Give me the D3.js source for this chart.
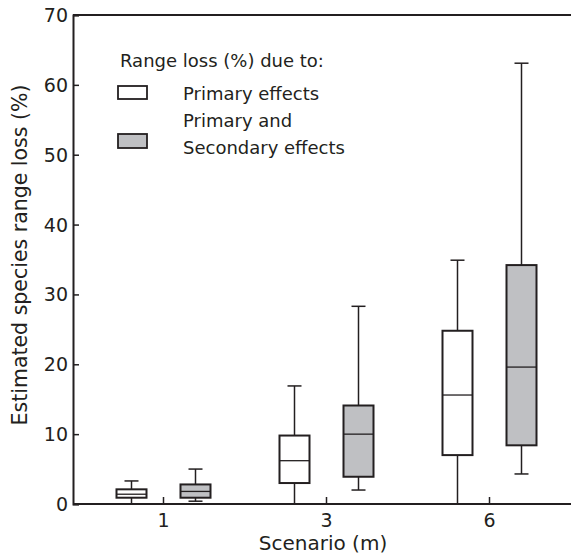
<!DOCTYPE html>
<html>
<head>
<meta charset="utf-8">
<script src="https://cdn.jsdelivr.net/npm/d3@7"></script>
<style>
  body { margin: 0; background: #fff; }
  svg { display: block; font-family: "DejaVu Sans", sans-serif; }
</style>
</head>
<body>
<svg id="chart" width="571" height="556"></svg>
<script>
// scenarios (sea-level rise, m) and the two effect series
const scenarios = ["1", "3", "6"];
const series = ["Primary effects", "Primary and Secondary effects"];
const yTicks = [0, 10, 20, 30, 40, 50, 60, 70];

// box stats per scenario: [min, q1, median, q3, max]
const primaryStats = [
  [0, 0.9, 1.4, 2.1, 3.3],
  [0, 3.0, 6.2, 9.8, 16.9],
  [0, 7.0, 15.6, 24.8, 34.9]
];
const secondaryStats = [
  [0.4, 0.9, 1.8, 2.8, 5.0],
  [2.0, 3.9, 10.0, 14.1, 28.3],
  [4.3, 8.4, 19.6, 34.2, 63.1]
];

const ink = "#231f20";
const grey = "#bfc0c3";
const fills = [ "#ffffff", grey ];

const svg = d3.select("#chart");
const plotLeft = 73, plotRight = 571, plotTop = 15, plotBottom = 504;

var y = d3.scaleLinear().domain([0, 70]).range([plotBottom, plotTop]);
var x = d3.scaleBand().domain(scenarios).range([82, 571]);
var offset = d3.scalePoint().domain(series).range([-32, 32]);
const boxW = 30;

// frame: top line and left axis
svg.append("line")
    .attr("x1", plotLeft).attr("x2", plotRight)
    .attr("y1", plotTop).attr("y2", plotTop)
    .attr("stroke", ink).attr("stroke-width", 2);

var yAxis = svg.append("g")
    .attr("transform", `translate(${plotLeft},0)`)
    .call(d3.axisRight(y).tickValues(yTicks).tickSize(6).tickFormat(""));
yAxis.select(".domain").attr("stroke", ink).attr("stroke-width", 2);
yAxis.selectAll(".tick line").attr("stroke", ink).attr("stroke-width", 1.5);

svg.append("g").selectAll("text")
    .data(yTicks)
    .enter()
    .append("text")
    .attr("x", 68)
    .attr("y", d => y(d) + 7)
    .attr("text-anchor", "end")
    .attr("font-size", "19px")
    .attr("fill", ink)
    .text(d => d);

var xAxis = svg.append("g")
    .attr("transform", `translate(0,${plotBottom})`)
    .call(d3.axisTop(x).tickSize(7).tickFormat(""));
xAxis.select(".domain").remove();
xAxis.selectAll(".tick line").attr("stroke", ink).attr("stroke-width", 1.5);

svg.append("line")
    .attr("x1", plotLeft).attr("x2", plotRight)
    .attr("y1", plotBottom).attr("y2", plotBottom)
    .attr("stroke", ink).attr("stroke-width", 2);

svg.append("g").selectAll("text")
    .data(scenarios)
    .enter()
    .append("text")
    .attr("x", d => x(d) + x.bandwidth() / 2)
    .attr("y", 527)
    .attr("text-anchor", "middle")
    .attr("font-size", "19px")
    .attr("fill", ink)
    .text(d => d);

// axis titles
svg.append("text")
    .attr("x", 323).attr("y", 550)
    .attr("text-anchor", "middle")
    .attr("font-size", "20px")
    .attr("fill", ink)
    .text("Scenario (m)");

svg.append("text")
    .attr("transform", "translate(27,255) rotate(-90)")
    .attr("text-anchor", "middle")
    .attr("font-size", "20.5px")
    .attr("fill", ink)
    .text("Estimated species range loss (%)");

// boxes
var boxes = [];
scenarios.forEach((s, i) => {
    boxes.push({ scenario: s, series: series[0], stats: primaryStats[i], fill: fills[0] });
    boxes.push({ scenario: s, series: series[1], stats: secondaryStats[i], fill: fills[1] });
});

var bx = svg.append("g").selectAll("g")
    .data(boxes)
    .enter()
    .append("g")
    .attr("transform", d => `translate(${x(d.scenario) + x.bandwidth() / 2 + offset(d.series)},0)`);

// whiskers
bx.append("line")
    .attr("x1", 0).attr("x2", 0)
    .attr("y1", d => y(d.stats[4])).attr("y2", d => y(d.stats[3]))
    .attr("stroke", ink).attr("stroke-width", 1.5);
bx.append("line")
    .attr("x1", 0).attr("x2", 0)
    .attr("y1", d => y(d.stats[1])).attr("y2", d => y(d.stats[0]))
    .attr("stroke", ink).attr("stroke-width", 1.5);
// caps (none when whisker reaches the axis)
bx.filter(d => d.stats[4] > 0).append("line")
    .attr("x1", -7).attr("x2", 7)
    .attr("y1", d => y(d.stats[4])).attr("y2", d => y(d.stats[4]))
    .attr("stroke", ink).attr("stroke-width", 1.5);
bx.filter(d => d.stats[0] > 0).append("line")
    .attr("x1", -7).attr("x2", 7)
    .attr("y1", d => y(d.stats[0])).attr("y2", d => y(d.stats[0]))
    .attr("stroke", ink).attr("stroke-width", 1.5);

bx.append("rect")
    .attr("x", -boxW / 2)
    .attr("width", boxW)
    .attr("y", d => y(d.stats[3]))
    .attr("height", d => y(d.stats[1]) - y(d.stats[3]))
    .attr("fill", d => d.fill)
    .attr("stroke", ink)
    .attr("stroke-width", 2);

bx.append("line")
    .attr("x1", -boxW / 2).attr("x2", boxW / 2)
    .attr("y1", d => y(d.stats[2])).attr("y2", d => y(d.stats[2]))
    .attr("stroke", ink).attr("stroke-width", 1.3);

// legend
var legend = svg.append("g");
legend.append("text")
    .attr("x", 120).attr("y", 67)
    .attr("font-size", "18px")
    .attr("fill", ink)
    .text("Range loss (%) due to:");

legend.append("rect")
    .attr("x", 118).attr("y", 86).attr("width", 29).attr("height", 13)
    .attr("fill", fills[0]).attr("stroke", ink).attr("stroke-width", 1.8);
legend.append("text")
    .attr("x", 183).attr("y", 100)
    .attr("font-size", "18px").attr("fill", ink)
    .text(series[0]);

legend.append("rect")
    .attr("x", 118).attr("y", 134).attr("width", 29).attr("height", 14)
    .attr("fill", fills[1]).attr("stroke", ink).attr("stroke-width", 1.8);
legend.append("text")
    .attr("x", 183).attr("y", 127)
    .attr("font-size", "18px").attr("fill", ink)
    .text("Primary and");
legend.append("text")
    .attr("x", 183).attr("y", 154)
    .attr("font-size", "18px").attr("fill", ink)
    .text("Secondary effects");
</script>
</body>
</html>
